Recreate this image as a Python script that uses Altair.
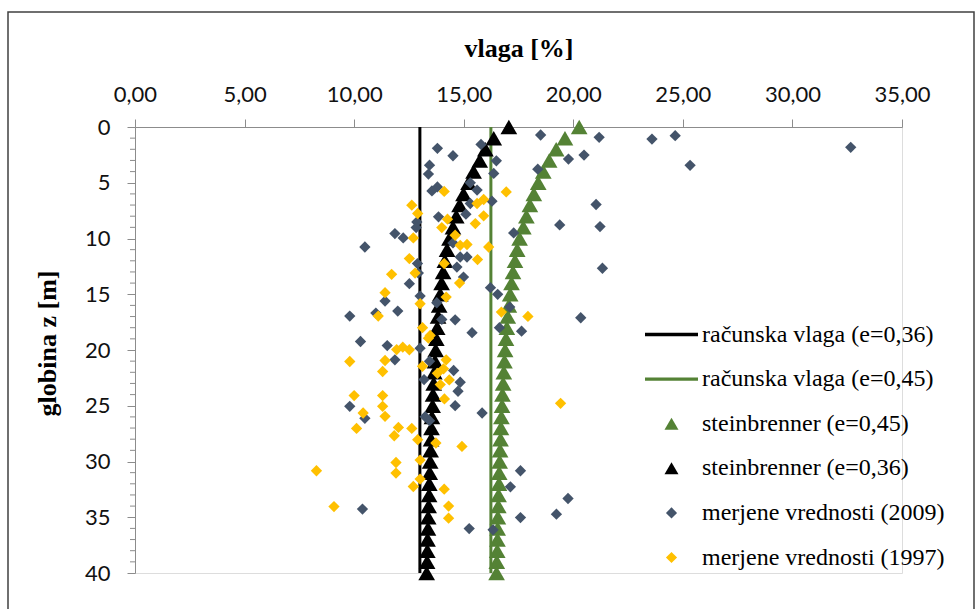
import altair as alt
import pandas as pd

# ---- series names, colours and legend symbols ----
serije = [
    "računska vlaga (e=0,36)",
    "računska vlaga (e=0,45)",
    "steinbrenner (e=0,45)",
    "steinbrenner (e=0,36)",
    "merjene vrednosti (2009)",
    "merjene vrednosti (1997)",
]
barve = ["#000000", "#548235", "#548235", "#000000", "#44546A", "#FFC000"]
# custom symbol paths (unit square -1..1): short bar for the lines, triangle, diamond
oblike = [
    "M-1,-0.065H1V0.065H-1Z",
    "M-1,-0.065H1V0.065H-1Z",
    "M0,-0.2285L0.264,0.2285L-0.264,0.2285Z",
    "M0,-0.2285L0.264,0.2285L-0.264,0.2285Z",
    "M0,-0.21L0.21,0L0,0.21L-0.21,0Z",
    "M0,-0.21L0.21,0L0,0.21L-0.21,0Z",
]

# ---- axis ticks ----
x_oznake = [0, 5, 10, 15, 20, 25, 30, 35]
y_oznake = [0, 5, 10, 15, 20, 25, 30, 35, 40]
y_pomozne = [1, 2, 3, 4, 6, 7, 8, 9, 11, 12, 13, 14, 16, 17, 18, 19, 21, 22, 23, 24,
             26, 27, 28, 29, 31, 32, 33, 34, 36, 37, 38, 39]

# ---- computed moisture (constant with depth) ----
globina_racunska = [0, 40]
vlaga_racunska_036 = [13.0, 13.0]
vlaga_racunska_045 = [16.24, 16.24]

# ---- Steinbrenner profiles ----
globina_stein = [0, 1, 2, 3, 4, 5, 6, 7, 8, 9, 10, 11, 12, 13, 14, 15, 16, 17, 18, 19, 20,
                 21, 22, 23, 24, 25, 26, 27, 28, 29, 30, 31, 32, 33, 34, 35, 36, 37, 38, 39, 40]
vlaga_stein_036 = [17.06, 16.37, 15.99, 15.73, 15.45, 15.22, 14.99, 14.81, 14.66, 14.51, 14.35,
                   14.24, 14.14, 14.06, 13.99, 13.93, 13.88, 13.83, 13.79, 13.75, 13.72,
                   13.69, 13.66, 13.63, 13.60, 13.58, 13.55, 13.53, 13.51, 13.49, 13.47,
                   13.45, 13.43, 13.42, 13.40, 13.38, 13.37, 13.35, 13.34, 13.33, 13.31]
vlaga_stein_045 = [20.27, 19.62, 19.22, 18.90, 18.63, 18.40, 18.20, 18.02, 17.86, 17.72, 17.55,
                   17.44, 17.34, 17.25, 17.18, 17.12, 17.06, 17.01, 16.97, 16.93, 16.89,
                   16.86, 16.83, 16.80, 16.77, 16.75, 16.72, 16.70, 16.68, 16.66, 16.64,
                   16.62, 16.61, 16.59, 16.58, 16.56, 16.55, 16.54, 16.53, 16.51, 16.50]

# ---- measured values 2009 ----
vlaga_2009 = [13.80, 14.51, 15.79, 16.49, 13.44, 13.39, 16.37, 13.80, 13.55, 15.30,
              15.61, 16.29, 15.30, 13.85, 15.10, 12.86, 12.83, 11.86, 12.24, 17.28,
              10.49, 14.51, 14.84, 15.15, 14.69, 12.89, 18.51, 21.18, 23.59, 24.65,
              32.66, 20.49, 19.78, 18.38, 25.33, 21.04, 19.38, 21.22, 21.33, 20.34,
              19.76, 19.23, 12.93, 14.99, 12.52, 16.22, 16.55, 13.01, 11.41, 13.77,
              9.80, 10.99, 11.99, 14.00, 14.61, 17.10, 16.63, 17.64, 15.38, 10.29,
              11.51, 13.01, 11.86, 13.44, 14.54, 13.19, 14.84, 14.74, 9.80, 10.49,
              14.61, 15.84, 13.24, 13.44, 10.38, 15.25, 16.34, 17.59, 17.13, 17.59]
globina_2009 = [1.91, 2.58, 1.56, 3.03, 3.42, 4.22, 4.16, 5.37, 5.73, 5.01,
                5.66, 6.65, 6.86, 8.06, 7.82, 8.51, 9.02, 9.56, 9.95, 9.50,
                10.76, 10.40, 11.66, 11.66, 12.56, 12.25, 0.72, 0.93, 1.08, 0.78,
                1.82, 2.52, 2.88, 3.78, 3.44, 6.95, 8.78, 8.93, 12.67, 17.11,
                33.32, 34.72, 13.10, 13.46, 14.05, 14.41, 15.01, 15.16, 15.61, 15.76,
                16.96, 16.69, 16.51, 17.26, 17.29, 16.15, 18.00, 18.31, 18.45, 19.24,
                19.60, 19.84, 20.88, 21.01, 21.84, 22.65, 22.89, 23.70, 25.05, 26.13,
                24.99, 25.65, 25.98, 26.34, 34.27, 36.02, 36.13, 30.83, 32.27, 35.03]

# ---- measured values 1997 ----
vlaga_1997 = [14.11, 16.94, 12.63, 12.90, 15.61, 15.91, 15.91, 14.26, 14.00, 15.53,
              12.70, 14.61, 14.84, 15.15, 16.14, 12.52, 15.63, 14.11, 11.71, 12.78,
              14.81, 11.41, 14.20, 13.01, 11.10, 16.72, 17.93, 13.12, 13.47, 13.39,
              11.94, 12.22, 12.52, 9.80, 11.41, 11.30, 13.12, 14.20, 14.08, 13.80,
              14.34, 13.93, 10.00, 11.30, 11.30, 14.12, 10.41, 11.41, 19.42, 10.11,
              12.02, 11.83, 12.63, 12.90, 13.73, 14.92, 8.28, 11.91, 11.91, 13.01,
              13.01, 12.70, 14.11, 9.08, 14.31, 14.31]
globina_1997 = [5.78, 5.82, 7.01, 7.76, 6.86, 6.50, 7.97, 8.27, 9.02, 8.66,
                9.95, 9.71, 10.61, 10.54, 10.76, 11.80, 11.89, 12.25, 13.21, 13.10,
                14.00, 14.86, 15.25, 15.85, 16.96, 16.60, 16.99, 18.00, 18.70, 18.94,
                19.96, 19.75, 19.98, 21.03, 20.94, 21.93, 21.46, 20.88, 21.69, 22.09,
                22.68, 23.10, 24.09, 24.09, 25.05, 24.39, 25.65, 25.95, 24.78, 27.03,
                26.94, 27.69, 27.03, 28.04, 28.34, 28.65, 30.83, 30.09, 31.04, 29.87,
                31.58, 32.24, 32.48, 34.04, 34.00, 35.08]

# ---- tables ----
rac036 = pd.DataFrame({"vlaga": vlaga_racunska_036, "globina": globina_racunska})
rac045 = pd.DataFrame({"vlaga": vlaga_racunska_045, "globina": globina_racunska})
stein = pd.DataFrame({
    "vlaga": vlaga_stein_045 + vlaga_stein_036,
    "globina": globina_stein + globina_stein,
    "serija": [serije[2]] * len(globina_stein) + [serije[3]] * len(globina_stein),
})
meritve = pd.DataFrame({
    "vlaga": vlaga_2009 + vlaga_1997,
    "globina": globina_2009 + globina_1997,
    "serija": [serije[4]] * len(vlaga_2009) + [serije[5]] * len(vlaga_1997),
})
pomozne = pd.DataFrame({"globina": y_pomozne})
okvir = pd.DataFrame({"k": [0]})

W, H = 767, 446

X = alt.X(
    "vlaga:Q",
    scale=alt.Scale(domain=[0, 35], nice=False, zero=False),
    axis=alt.Axis(
        orient="top", values=x_oznake, grid=False,
        labelExpr="replace(format(datum.value, '.2f'), '.', ',')",
        labelFont="Lato", labelFontSize=22, labelColor="#111111",
        labelPadding=13, labelFlush=False, labelOverlap=False,
        tickSize=8, tickColor="#8c8c8c", tickWidth=1,
        domainColor="#8c8c8c", domainWidth=1,
        title="vlaga [%]", titleFont="Liberation Serif", titleFontSize=26,
        titleFontWeight="bold", titleColor="#000000",
        titleY=-71, titleBaseline="alphabetic",
    ),
)
Y = alt.Y(
    "globina:Q",
    scale=alt.Scale(domain=[0, 40], reverse=True, nice=False, zero=False),
    axis=alt.Axis(
        orient="left", values=y_oznake, grid=False,
        labelFont="Lato", labelFontSize=22, labelColor="#111111",
        labelPadding=17, labelFlush=False, labelOverlap=False,
        tickSize=8, tickColor="#8c8c8c", tickWidth=1,
        domainColor="#8c8c8c", domainWidth=1,
        title="globina z [m]", titleFont="Liberation Serif", titleFontSize=26,
        titleFontWeight="bold", titleColor="#000000",
        titleAngle=270, titleX=-80, titleY=216, titleBaseline="alphabetic",
    ),
)

legenda = alt.Legend(
    title=None, orient="none", legendX=510, legendY=181,
    labelFont="Liberation Serif", labelFontSize=24, labelColor="#000000",
    labelOffset=4, rowPadding=5.6, symbolSize=2809, symbolStrokeWidth=0,
    symbolOpacity=1, labelLimit=400, padding=0,
)
FILL = alt.Fill("serija:N", scale=alt.Scale(domain=serije, range=barve), legend=legenda)
SHAPE = alt.Shape("serija:N", scale=alt.Scale(domain=serije, range=oblike), legend=legenda)

crta036 = alt.Chart(rac036).mark_line(color="#000000", strokeWidth=3).encode(x=X, y=Y)
crta045 = alt.Chart(rac045).mark_line(color="#548235", strokeWidth=3).encode(x=X, y=Y)

trikotniki = alt.Chart(stein).mark_point(
    filled=True, size=4000, opacity=1, strokeWidth=0
).encode(x=X, y=Y, fill=FILL, shape=SHAPE)

karo = alt.Chart(meritve).mark_point(
    filled=True, size=2900, opacity=1, strokeWidth=0
).encode(x=X, y=Y, fill=FILL, shape=SHAPE)

# minor ticks on the depth axis
pomozne_crtice = alt.Chart(pomozne).mark_rule(color="#8c8c8c", strokeWidth=1).encode(
    y=Y, x=alt.value(-5), x2=alt.value(0)
)

# border around the whole chart
rob = alt.Chart(okvir).mark_rect(
    fillOpacity=0, stroke="#404040", strokeWidth=1.5, clip=False
).encode(x=alt.value(-127), x2=alt.value(839), y=alt.value(-115), y2=alt.value(520))

chart = alt.layer(
    rob, pomozne_crtice, crta036, crta045, trikotniki, karo
).properties(
    width=W, height=H,
    autosize=alt.AutoSizeParams(type="none"),
    padding={"left": 135, "top": 127, "right": 976 - 135 - W, "bottom": 609 - 127 - H},
).configure_view(stroke=None).configure(background="#ffffff")

chart.save("out.html", embed_options={"renderer": "svg", "actions": False})
